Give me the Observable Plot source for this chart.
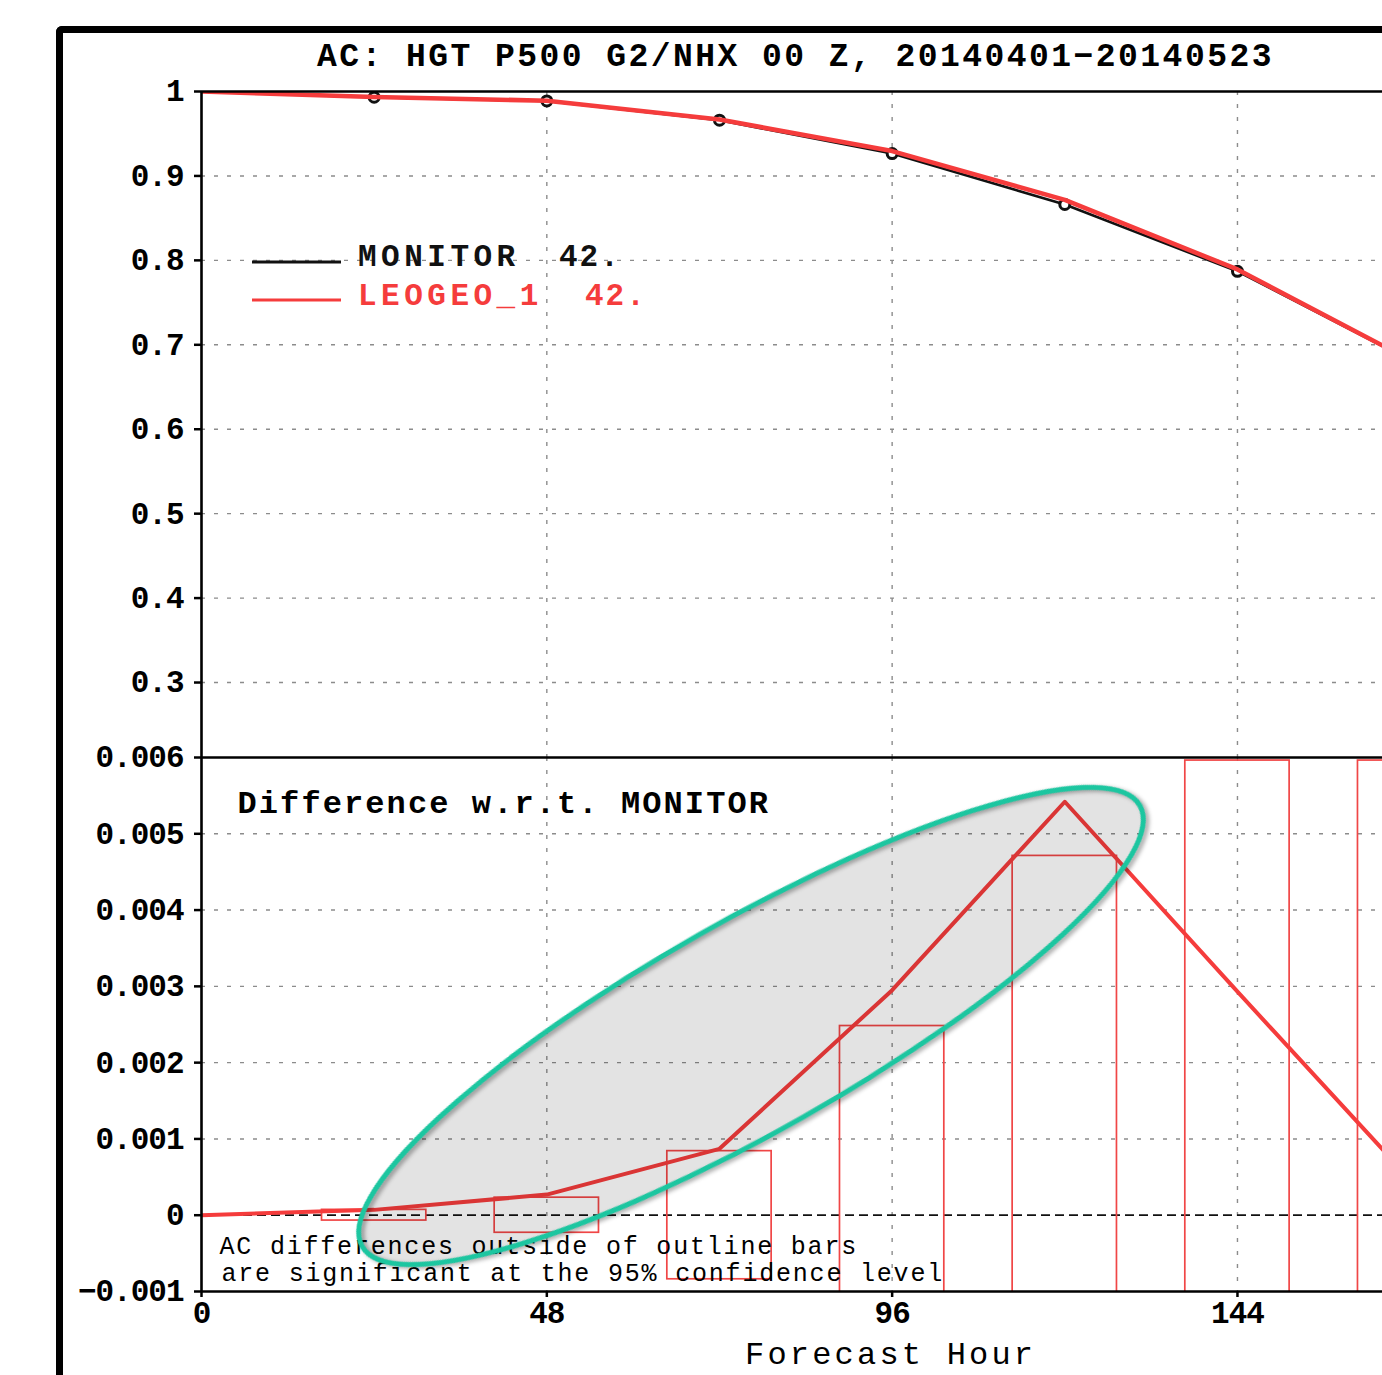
<!DOCTYPE html>
<html><head><meta charset="utf-8">
<script src="https://cdn.jsdelivr.net/npm/d3@7"></script>
<script src="https://cdn.jsdelivr.net/npm/@observablehq/plot@0.6"></script>
<style>
html,body{margin:0;padding:0;background:#fff;overflow:hidden;width:1382px;height:1375px;}
#page{position:relative;width:1382px;height:1375px;overflow:hidden;background:#fff;}
#frame{position:absolute;left:56px;top:26px;width:2000px;height:2000px;border-left:7px solid #000;border-top:7px solid #000;border-top-left-radius:6px;}
#topWrap{position:absolute;left:0;top:80px;}
#botWrap{position:absolute;left:0;top:747px;}
#overlay{position:absolute;left:0;top:0;pointer-events:none;}
</style></head><body><div id="page"><div id="frame"></div><div id="topWrap"></div><div id="botWrap"></div></div>
<script>
// ---- data ----
const hours = [0, 24, 48, 72, 96, 120, 144, 168];
const monitorAC = [1.0, 0.9932, 0.9888, 0.9660, 0.9265, 0.8662, 0.7870, 0.6815];
const leogeoAC  = [1.0, 0.9934, 0.9891, 0.9668, 0.9294, 0.8716, 0.7892, 0.6820];
const diffAC    = [0.0, 0.00007, 0.00027, 0.00087, 0.00295, 0.00542, 0.00293, 0.00047];
const ciHalf    = [0.0, 0.00007, 0.00023, 0.00084, 0.00248, 0.00471, 0.00596, 0.00596];
const seriesNames = ["MONITOR", "LEOGEO_1"];
const seriesCounts = ["42.", "42."];
const topTicks = [1, 0.9, 0.8, 0.7, 0.6, 0.5, 0.4, 0.3];
const topTickLabels = ["1", "0.9", "0.8", "0.7", "0.6", "0.5", "0.4", "0.3"];
const botTicks = [0.006, 0.005, 0.004, 0.003, 0.002, 0.001, 0, -0.001];
const botTickLabels = ["0.006", "0.005", "0.004", "0.003", "0.002", "0.001", "0", "\u22120.001"];
const xTicks = [0, 48, 96, 144];
const xTickLabels = ["0", "48", "96", "144"];
const titleText = "AC: HGT P500 G2/NHX 00 Z, 20140401\u221220140523";
const diffTitle = "Difference w.r.t. MONITOR";
const noteLines = ["AC differences outside of outline bars", "are significant at the 95% confidence level"];
const xLabel = "Forecast Hour";
// annotation ellipse centre (data units)
const ellipseCenter = {h: 76.45, v: 0.002474};

// ---- styling ----
const FONT = "Liberation Mono";
const RED = "#f53c3c";
const GRID = {stroke: "#8c8c8c", strokeOpacity: 1, strokeWidth: 1.4, strokeDasharray: "4,9"};
const X_DOMAIN = [0, 164.16];

const monitorRows = hours.map((h, i) => ({h, v: monitorAC[i]}));
const leogeoRows = hours.map((h, i) => ({h, v: leogeoAC[i]}));
const diffRows = hours.map((h, i) => ({h, v: diffAC[i]}));
const barRows = hours.map((h, i) => ({h, ci: ciHalf[i]})).filter(d => d.ci > 0);

const topLab = new Map(topTicks.map((t, i) => [t, topTickLabels[i]]));
const botLab = new Map(botTicks.map((t, i) => [t, botTickLabels[i]]));
const xLab = new Map(xTicks.map((t, i) => [t, xTickLabels[i]]));

const axisText = {fontSize: 31, fontWeight: "bold", fontFamily: FONT, label: null};

const topPlot = Plot.plot({
  width: 1382, height: 677,
  marginTop: 11, marginBottom: 0, marginLeft: 201, marginRight: 0,
  x: {domain: X_DOMAIN, axis: null},
  y: {domain: [0.2112, 1], axis: null},
  style: {background: "transparent", fontFamily: FONT, overflow: "visible"},
  marks: [
    Plot.gridY(topTicks.slice(1), GRID),
    Plot.gridX(xTicks.slice(1), GRID),
    Plot.axisY(topTicks, {...axisText, tickSize: 7, tickPadding: 11, strokeWidth: 2.5,
      tickFormat: d => topLab.get(d)}),
    Plot.line(monitorRows, {x: "h", y: "v", stroke: "#111", strokeWidth: 2.6, clip: true}),
    Plot.dot(monitorRows.slice(1), {x: "h", y: "v", r: 5, stroke: "#111", fill: "#fff", strokeWidth: 3, clip: true}),
    Plot.line(leogeoRows, {x: "h", y: "v", stroke: RED, strokeWidth: 4.6, clip: true}),
    Plot.ruleX([0], {stroke: "#000", strokeWidth: 2.6}),
    Plot.ruleY([1], {stroke: "#000", strokeWidth: 2.6})
  ]
});

function ellipseMark() {
  return Plot.dot([ellipseCenter], {
    x: "h", y: "v",
    render(index, scales, values) {
      const cx = values.x[index[0]], cy = values.y[index[0]];
      const g = d3.create("svg:g");
      g.append("ellipse")
        .attr("cx", cx).attr("cy", cy).attr("rx", 447).attr("ry", 105)
        .attr("transform", `rotate(-29.55 ${cx} ${cy})`)
        .attr("fill", "#000").attr("fill-opacity", 0.11)
        .attr("stroke", "none");
      g.append("ellipse")
        .attr("cx", cx).attr("cy", cy).attr("rx", 447).attr("ry", 105)
        .attr("transform", `rotate(-29.55 ${cx} ${cy})`)
        .attr("fill", "none").attr("stroke", "#1cc6a0").attr("stroke-width", 5)
        .style("filter", "drop-shadow(2px 3px 2px rgba(0,0,0,0.35))");
      return g.node();
    }
  });
}

const botPlot = Plot.plot({
  width: 1382, height: 594,
  marginTop: 10, marginBottom: 50, marginLeft: 201, marginRight: 0,
  x: {domain: X_DOMAIN, axis: null},
  y: {domain: [-0.001, 0.006], axis: null},
  style: {background: "transparent", fontFamily: FONT, overflow: "visible"},
  marks: [
    Plot.gridY([0.005, 0.004, 0.003, 0.002, 0.001], GRID),
    Plot.gridX(xTicks.slice(1), GRID),
    Plot.ruleY([0], {stroke: "#111", strokeWidth: 1.8, strokeDasharray: "9,5"}),
    Plot.rect(barRows, {x1: d => d.h - 7.25, x2: d => d.h + 7.25, y1: d => -d.ci, y2: d => d.ci,
      fill: "none", stroke: "#f04646", strokeWidth: 1.7, clip: true}),
    Plot.axisY(botTicks, {...axisText, tickSize: 7, tickPadding: 11, strokeWidth: 2.5,
      tickFormat: d => botLab.get(d)}),
    Plot.axisX(xTicks, {...axisText, tickSize: 6, tickPadding: 3, strokeWidth: 2.5,
      tickFormat: d => xLab.get(d)}),
    Plot.line(diffRows, {x: "h", y: "v", stroke: RED, strokeWidth: 4, clip: true}),
    Plot.ruleX([0], {stroke: "#000", strokeWidth: 2.6}),
    Plot.ruleY([0.006], {stroke: "#000", strokeWidth: 2.6}),
    Plot.ruleY([-0.001], {stroke: "#000", strokeWidth: 2.6}),
    Plot.text([diffTitle], {frameAnchor: "top-left", dx: 36, dy: 45, lineAnchor: "middle",
      textAnchor: "start", fontSize: 32, fontWeight: "bold", fill: "#000"}),
    Plot.text([noteLines[0]], {frameAnchor: "bottom-left", dx: 18, dy: -46, lineAnchor: "middle",
      textAnchor: "start", fontSize: 25, fill: "#000"}),
    Plot.text([noteLines[1]], {frameAnchor: "bottom-left", dx: 20, dy: -19, lineAnchor: "middle",
      textAnchor: "start", fontSize: 25, fill: "#000"}),
    ellipseMark()
  ]
});

document.getElementById("topWrap").appendChild(topPlot);
document.getElementById("botWrap").appendChild(botPlot);

// letter spacing tweaks for a GrADS-like look
for (const svg of [topPlot, botPlot]) {
  d3.select(svg).selectAll("g[aria-label='y-axis tick label'] text, g[aria-label='x-axis tick label'] text")
    .attr("letter-spacing", "-1px");
}
d3.select(botPlot).selectAll("g[aria-label='text'] text").each(function() {
  const t = this.textContent;
  if (t === diffTitle) this.setAttribute("letter-spacing", "2.1px");
  else if (noteLines.includes(t)) this.setAttribute("letter-spacing", "1.8px");
});

// overlay: title, legend, x label
const ov = d3.select("#page").append("svg").attr("id", "overlay")
  .attr("width", 1382).attr("height", 1375).style("font-family", FONT);
ov.append("text").attr("x", 317).attr("y", 66).attr("font-size", 33).attr("font-weight", "bold")
  .attr("letter-spacing", "2.45px").text(titleText);
const legColors = ["#111", RED];
const legY = [262, 300];
const legCountX = [559, 585];
seriesNames.forEach((name, i) => {
  ov.append("line").attr("x1", 252).attr("x2", 341).attr("y1", legY[i]).attr("y2", legY[i])
    .attr("stroke", legColors[i]).attr("stroke-width", 3);
  ov.append("text").attr("x", 358).attr("y", legY[i] + 4 + i).attr("font-size", 31).attr("font-weight", "bold")
    .attr("letter-spacing", "4.5px").attr("fill", legColors[i]).text(name);
  ov.append("text").attr("x", legCountX[i]).attr("y", legY[i] + 4 + i).attr("font-size", 31).attr("font-weight", "bold")
    .attr("letter-spacing", "2px").attr("fill", legColors[i]).text(seriesCounts[i]);
});
ov.append("text").attr("x", 745).attr("y", 1364).attr("font-size", 32)
  .attr("letter-spacing", "3.2px").attr("fill", "#000").text(xLabel);
</script>
</body></html>
